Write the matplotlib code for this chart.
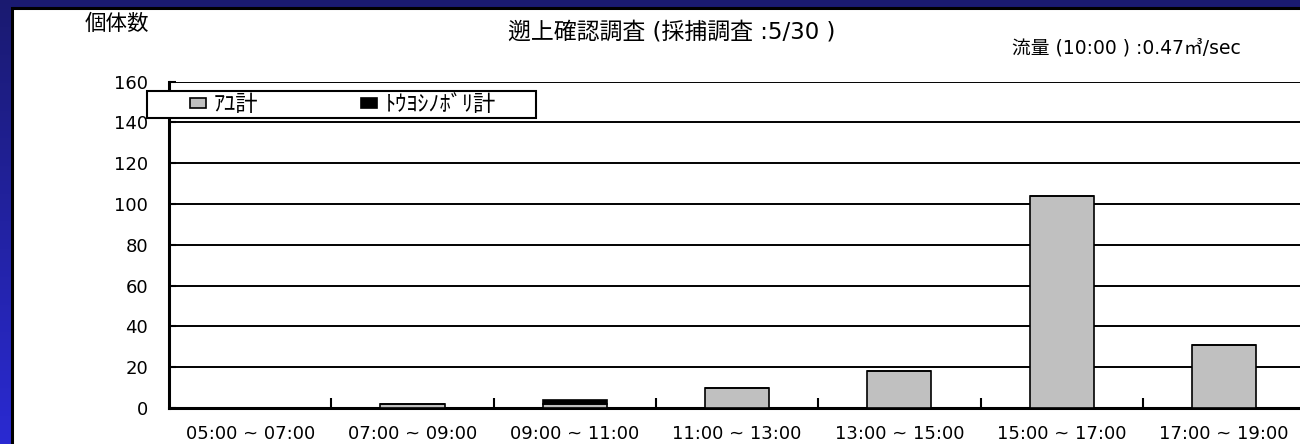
import numpy as np
import matplotlib.pyplot as plt
from matplotlib.patches import Rectangle, Patch
from matplotlib.colors import LinearSegmentedColormap

plt.rcParams['font.family'] = ['DejaVu Sans', 'Noto Sans CJK JP']

# data
periods = ["05:00 ~ 07:00", "07:00 ~ 09:00", "09:00 ~ 11:00", "11:00 ~ 13:00",
           "13:00 ~ 15:00", "15:00 ~ 17:00", "17:00 ~ 19:00"]
ayu = [0, 2, 2, 10, 18, 104, 31]
toyoshinobori = [0, 0, 2, 0, 0, 0, 0]
yticks = [0, 20, 40, 60, 80, 100, 120, 140, 160]

title = "遡上確認調査 (採捕調査 :5/30 )"
ylabel = "個体数"
flow_note = "流量 (10:00 ) :0.47㎥/sec"
legend_labels = ["ｱﾕ計", "ﾄｳﾖｼﾉﾎﾞﾘ計"]

fig = plt.figure(figsize=(13, 4.44), dpi=100)

# blue gradient background
bg = fig.add_axes([0, 0, 1, 1], zorder=-10)
grad = np.linspace(0, 1, 256).reshape(-1, 1)
cm = LinearSegmentedColormap.from_list("bg", ["#1a1a70", "#2a2ad2"])
bg.imshow(grad, aspect="auto", cmap=cm, extent=[0, 1, 0, 1], origin="upper")
bg.set_xlim(0, 1); bg.set_ylim(0, 1)
bg.axis("off")
# white panel with black top/left edge
bg.add_patch(Rectangle((12 / 1300, -0.1), 1.2, 1 - 8 / 444 + 0.1,
                       facecolor="white", edgecolor="black", linewidth=2.2))

ax = fig.add_axes([169 / 1300, 36 / 444, 1131 / 1300, 326.4 / 444])
ax.set_facecolor("none")
x = np.arange(len(periods))
ax.bar(x, ayu, width=0.395, color="#c0c0c0", edgecolor="black", linewidth=1.2, zorder=3)
ax.bar(x, toyoshinobori, width=0.395, bottom=ayu, color="black", edgecolor="black",
       linewidth=1.2, zorder=3)

ax.set_xlim(-0.5, -0.5 + 1131 / 162.3)
ax.set_ylim(0, 160)
ax.set_yticks(yticks)
ax.yaxis.grid(True, color="black", linewidth=1.4, zorder=0)
ax.set_axisbelow(True)
ax.tick_params(axis="y", direction="in", length=5, width=1.5, labelsize=13, pad=15)
ax.set_xticks(x)
ax.set_xticklabels(periods)
ax.tick_params(axis="x", length=0, labelsize=13, pad=12)
ax.set_xticks(np.arange(0.5, 6, 1), minor=True)
ax.tick_params(axis="x", which="minor", direction="in", length=7, width=1.5)
for s in ["top", "right"]:
    ax.spines[s].set_visible(False)
for s in ["left", "bottom"]:
    ax.spines[s].set_linewidth(2.2)

fig.text(85 / 1300, 1 - 24 / 444, ylabel, fontsize=15.5, va="center", ha="left",
         family=["Noto Sans CJK JP"])
fig.text(508 / 1300, 1 - 32 / 444, title, fontsize=16.5, va="center", ha="left")
fig.text(1012 / 1300, 1 - 48 / 444, flow_note, fontsize=13.5, va="center", ha="left")

# legend box
fig.patches.append(Rectangle((147 / 1300, 1 - 118 / 444), 389 / 1300, 27 / 444,
                             transform=fig.transFigure, facecolor="white",
                             edgecolor="black", linewidth=1.5, zorder=4))
handles = [Patch(facecolor="#c0c0c0", edgecolor="black", linewidth=1.2),
           Patch(facecolor="black", edgecolor="black", linewidth=1.2)]
fig.legend(handles, legend_labels, loc="center", ncol=2, frameon=False,
           bbox_to_anchor=(343 / 1300, 1 - 104.5 / 444),
           handlelength=0.75, handleheight=0.35, handletextpad=0.35,
           columnspacing=4.6, prop={"family": ["Noto Sans CJK JP"], "size": 16})

fig.savefig("out.png", dpi=100)
